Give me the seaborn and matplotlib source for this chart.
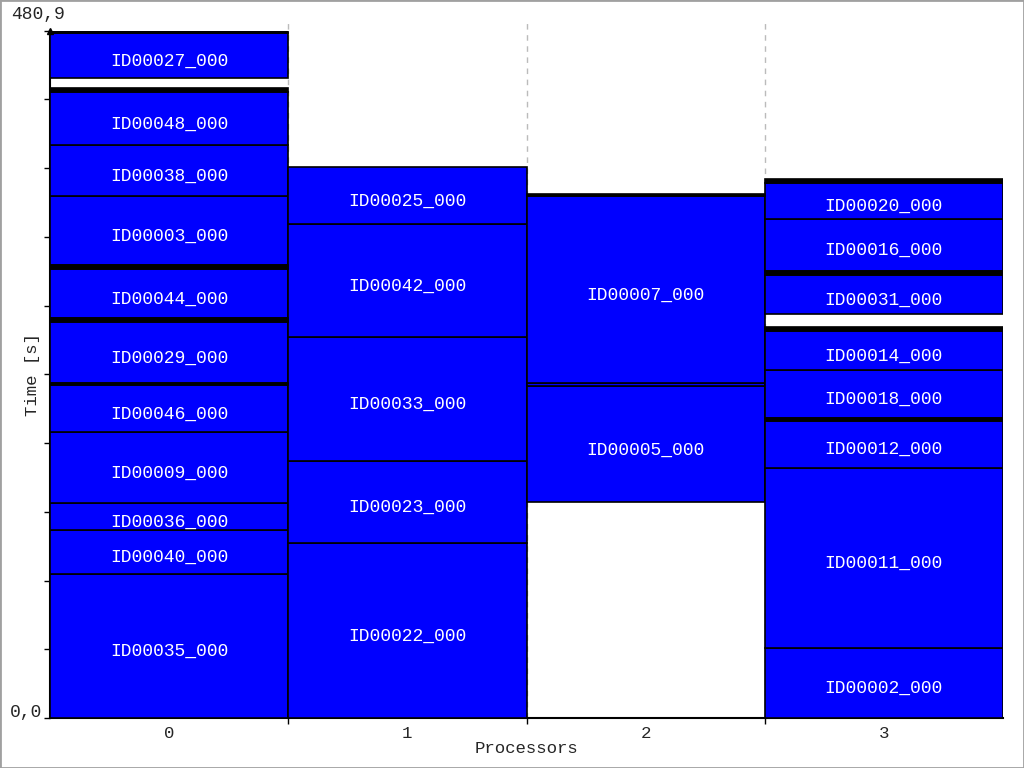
import matplotlib
matplotlib.use("Agg")
import matplotlib.pyplot as plt
import matplotlib.transforms as mtransforms
import seaborn as sns
import numpy as np

# ---- data ----
processors = [0, 1, 2, 3]
proc_labels = ["0", "1", "2", "3"]
y_max = 480.9
y_labels = ["0,0", "480,9"]

task_names = ["ID00035_000", "ID00040_000", "ID00036_000", "ID00009_000", "ID00046_000",
              "ID00029_000", "ID00044_000", "ID00003_000", "ID00038_000", "ID00048_000",
              "ID00027_000",
              "ID00022_000", "ID00023_000", "ID00033_000", "ID00042_000", "ID00025_000",
              "ID00005_000", "", "ID00007_000",
              "ID00002_000", "ID00011_000", "ID00012_000", "ID00018_000", "ID00014_000",
              "ID00031_000", "ID00016_000", "ID00020_000"]
task_proc = [0, 0, 0, 0, 0, 0, 0, 0, 0, 0, 0,
             1, 1, 1, 1, 1,
             2, 2, 2,
             3, 3, 3, 3, 3, 3, 3, 3]
task_start = [0.0, 100.7, 131.5, 150.4, 200.1, 234.3, 279.8, 316.7, 365.1, 400.8, 447.7,
              0.0, 122.4, 179.8, 266.5, 345.6,
              150.9, 231.9, 234.0,
              0.0, 48.8, 175.1, 209.8, 243.4, 282.6, 312.7, 349.3]
task_end = [100.7, 131.5, 150.4, 200.1, 233.0, 277.2, 314.3, 365.1, 400.8, 438.1, 479.2,
            122.4, 179.8, 266.5, 345.6, 385.2,
            231.9, 234.0, 364.8,
            48.8, 175.1, 208.0, 243.4, 270.9, 310.1, 349.3, 374.0]

# short overhead segments (appear as thick black lines)
short_proc = [0, 0, 0, 0, 0, 2, 3, 3, 3, 3]
short_start = [233.0, 277.2, 314.3, 438.1, 479.2, 364.8, 208.0, 270.9, 310.1, 374.0]
short_end = [234.3, 279.8, 316.7, 440.5, 480.9, 366.3, 209.8, 273.7, 312.7, 376.8]

# ---- plot ----
sns.set_theme(style="white")
mono = ["Liberation Mono", "DejaVu Sans Mono"]
plt.rcParams["font.family"] = mono

fig = plt.figure(figsize=(10.24, 7.68), dpi=100)
ax = fig.add_axes([50 / 1024, 50 / 768, 953 / 1024, (718 - 30.5) / 768])

blue = "#0000ff"
edge_lw = 1.2

ts = np.array(task_start)
te = np.array(task_end)
ax.bar(task_proc, te - ts, bottom=ts, width=1.0, color=blue,
       edgecolor="black", linewidth=edge_lw, zorder=3)
ss = np.array(short_start)
se = np.array(short_end)
ax.bar(short_proc, se - ss, bottom=ss, width=1.0, color="black",
       edgecolor="black", linewidth=edge_lw, zorder=3)

shift = mtransforms.offset_copy(ax.transData, fig=fig, x=0, y=-3.5, units="dots")
for name, p, s, e in zip(task_names, task_proc, task_start, task_end):
    if name:
        ax.text(p, (s + e) / 2, name, ha="center", va="center_baseline", color="white",
                fontsize=13, family=mono, zorder=4, transform=shift)

ax.set_xlim(-0.5, 3.5)
ax.set_ylim(0, y_max)

# grid lines at processor boundaries
for b in [0.5, 1.5, 2.5]:
    ax.axvline(b, ymin=0, ymax=1.015, color="#bbbbbb", linestyle=(0, (4, 4)),
               linewidth=1.0, zorder=1, clip_on=False)

ax.set_xticks(processors)
ax.set_xticklabels(proc_labels, fontsize=12.5)
ax.set_xticks([0.5, 1.5, 2.5], minor=True)
ax.tick_params(axis="x", which="major", length=0, pad=6)
ax.tick_params(axis="x", which="minor", length=4, width=1, color="black", direction="out", bottom=True)

ax.set_yticks(np.linspace(0, y_max, 11))
ax.set_yticklabels([])
ax.tick_params(axis="y", which="major", length=4, width=1, color="black", direction="out", left=True)

fig.text(10 / 1024, 1 - 712 / 768, y_labels[0], ha="left", va="center",
         fontsize=13, family=mono)
fig.text(11 / 1024, 1 - 14 / 768, y_labels[1], ha="left", va="center",
         fontsize=13, family=mono)

ax.set_xlabel("Processors", fontsize=12.5, labelpad=0)
ax.set_ylabel("Time [s]", fontsize=12.5, labelpad=0)

for side in ["top", "right"]:
    ax.spines[side].set_visible(False)
for side in ["left", "bottom"]:
    ax.spines[side].set_color("black")
    ax.spines[side].set_linewidth(1.5)

# arrow at top of y axis
ax.plot([0], [1.0], marker="^", color="black", markersize=5, transform=ax.transAxes,
        clip_on=False, zorder=5)

# figure border
fig.patches.append(plt.Rectangle((0, 0), 1, 1, transform=fig.transFigure, fill=False,
                                 edgecolor="#a0a0a0", linewidth=2))

fig.savefig("out.png", dpi=100)
